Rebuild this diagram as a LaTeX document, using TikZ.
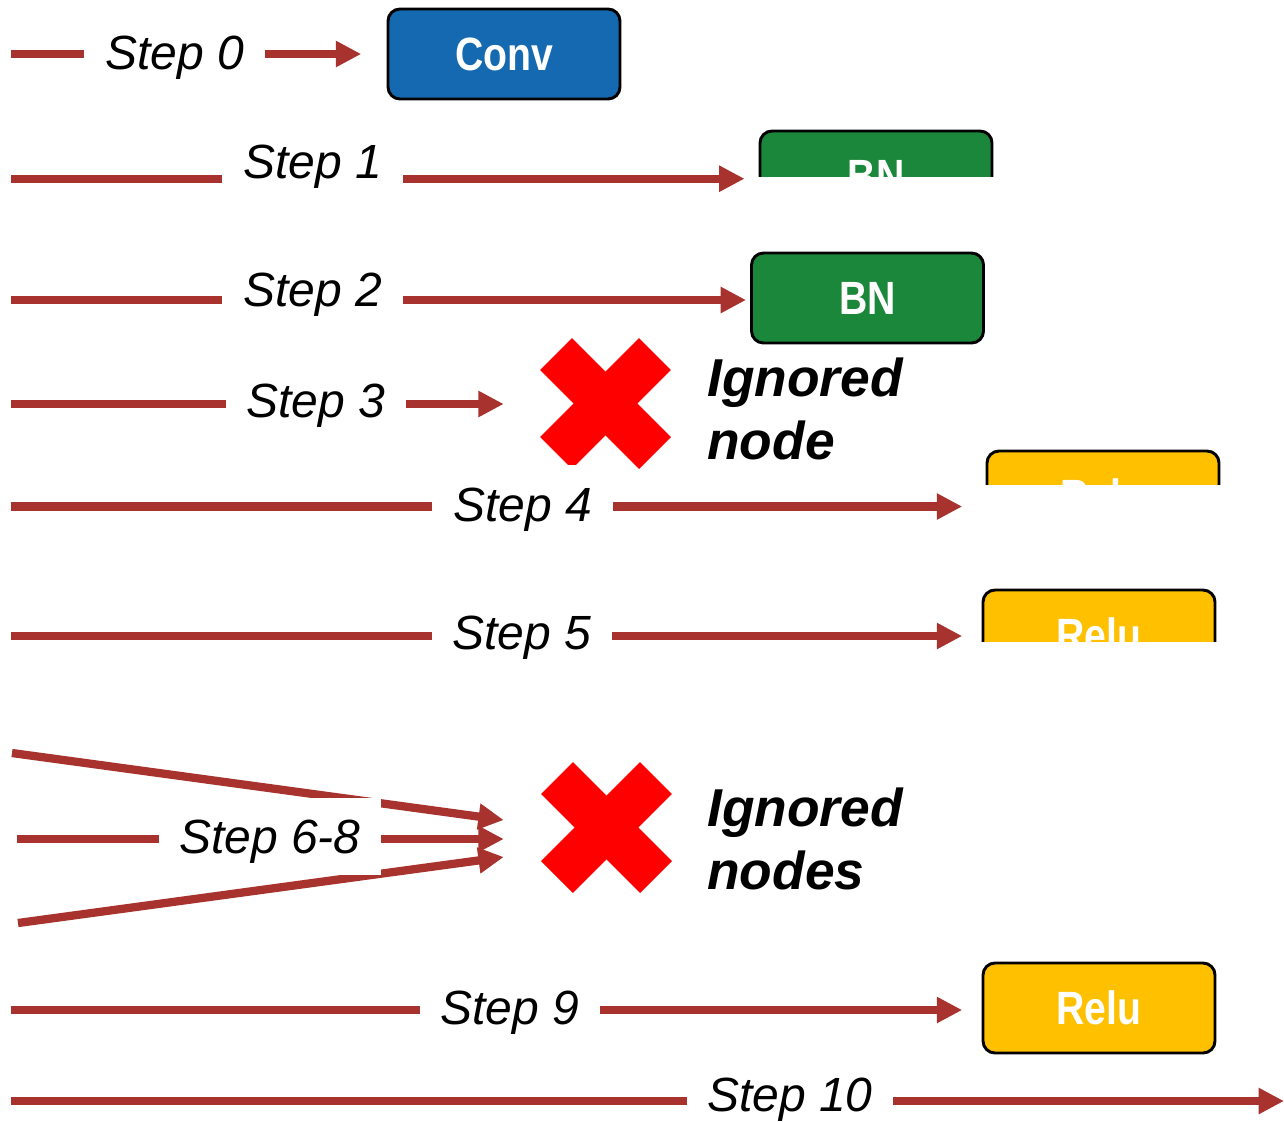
\documentclass[tikz,border=0pt]{standalone}
\usepackage{fontspec}
\usepackage{graphicx}
\setmainfont{Liberation Sans}
\usetikzlibrary{arrows.meta,calc}

\definecolor{flowred}{RGB}{168,50,45}
\definecolor{convblue}{RGB}{21,105,176}
\definecolor{bngreen}{RGB}{26,135,58}
\definecolor{reluyellow}{RGB}{255,192,0}
\definecolor{xred}{RGB}{255,0,0}

% narrow bold lettering inside the operator boxes
\newcommand\oplabel[1]{\scalebox{0.84}[1]{#1}}

\tikzset{
  flow/.style={draw=flowred, line width=6.2pt,
    -{Triangle[length=19pt,width=18.5pt]}},
  stepbox/.style={fill=white, inner xsep=15.5pt, inner ysep=16.3pt,
    text height=25.8pt, text depth=0pt,
    font=\fontsize{36pt}{43pt}\selectfont\itshape},
  opbox/.style={draw=black, line width=2.2pt, rounded corners=9pt,
    minimum width=174pt, minimum height=67.5pt, inner sep=0pt,
    text=white, font=\fontsize{35pt}{40pt}\selectfont\bfseries},
  crossmark/.style={minimum size=98.25pt, inner sep=0pt},
  ignoredtext/.style={anchor=base west, inner sep=0pt,
    font=\fontsize{40pt}{47pt}\selectfont\bfseries\itshape},
}

\begin{document}
\begin{tikzpicture}[x=0.75pt, y=-0.75pt]
\useasboundingbox (0,0) rectangle (1284,1122);
\fill[white] (0,0) rectangle (1284,1122);

% ---- operator boxes ----
\node[opbox, fill=convblue] (conv) at (504,54) {\oplabel{Conv}};
\begin{scope}
  \clip (700,100) rectangle (1050,176);
  \node[opbox, fill=bngreen] (bn1) at (876,176) {\oplabel{BN}};
\end{scope}
\node[opbox, fill=bngreen] (bn2) at (867.5,298) {\oplabel{BN}};
\begin{scope}
  \clip (950,430) rectangle (1250,484);
  \node[opbox, fill=reluyellow] (relu4) at (1103,496) {\oplabel{Relu}};
\end{scope}
\begin{scope}
  \clip (950,570) rectangle (1250,641);
  \node[opbox, fill=reluyellow] (relu5) at (1099,635) {\oplabel{Relu}};
\end{scope}
\node[opbox, fill=reluyellow] (relu9) at (1099,1008) {\oplabel{Relu}};

% ---- crosses for skipped nodes ----
\node[crossmark] (x3) at (605.5,403.5) {};
\node[crossmark] (x68) at (606.5,827.5) {};
\foreach \c in {x3,x68}{
  \begin{scope}[shift={(\c.center)}, rotate=45]
    \fill[xred] (-70,-22.5) rectangle (70,22.5);
    \fill[xred] (-22.5,-70) rectangle (22.5,70);
  \end{scope}
}
\node[ignoredtext] (ign3a) at (707,396) {Ignored};
\node[ignoredtext] (ign3b) at (707,459) {node};
\node[ignoredtext] (ign68a) at (707,826) {Ignored};
\node[ignoredtext] (ign68b) at (707,889) {nodes};

% ---- start points of the step arrows ----
\coordinate (s0) at (11,54);
\coordinate (s1) at (11,178.7);
\coordinate (s2) at (11,300);
\coordinate (s3) at (11,404);
\coordinate (s4) at (11,506.5);
\coordinate (s5) at (11,636);
\coordinate (s6) at (12,753);
\coordinate (s7) at (17,839);
\coordinate (s8) at (18,923);
\coordinate (s9) at (11,1010);
\coordinate (s10) at (11,1101);
\coordinate (end10) at (1284,1101);

% ---- step arrows ----
\draw[flow, shorten >=19pt] (s0) -- (s0 -| conv.west);
\draw[flow, shorten >=10.5pt] (s1) -- (s1 -| bn1.west);
\draw[flow, shorten >=3pt] (s2) -- (s2 -| bn2.west);
\draw[flow, shorten >=27pt] (s3) -- (s3 -| x3.west);
\draw[flow, shorten >=17.5pt] (s4) -- (s4 -| relu4.west);
\draw[flow, shorten >=14.5pt] (s5) -- (s5 -| relu5.west);
\draw[flow] (s6) -- ($(x68.west)+(-37,-7.5)$);
\draw[flow] (s7) -- ($(x68.west)+(-37,11.5)$);
\draw[flow] (s8) -- ($(x68.west)+(-37,29.5)$);
\draw[flow, shorten >=14.5pt] (s9) -- (s9 -| relu9.west);
\draw[flow] (s10) -- (end10);

% ---- step labels, masking the arrows behind them ----
\node[stepbox] (l0) at (174.5,52.5) {Step 0};
\node[stepbox] (l1) at (312.5,161) {Step 1};
\node[stepbox] (l2) at (312.5,289) {Step 2};
\node[stepbox] (l3) at (316,400) {Step 3};
\node[stepbox] (l4) at (522.5,504) {Step 4};
\node[stepbox] (l5) at (522,632) {Step 5};
\node[stepbox] (l68) at (270,836.5) {Step 6-8};
\node[stepbox] (l9) at (510,1007) {Step 9};
\node[stepbox] (l10) at (790,1094) {Step 10};
\end{tikzpicture}
\end{document}
